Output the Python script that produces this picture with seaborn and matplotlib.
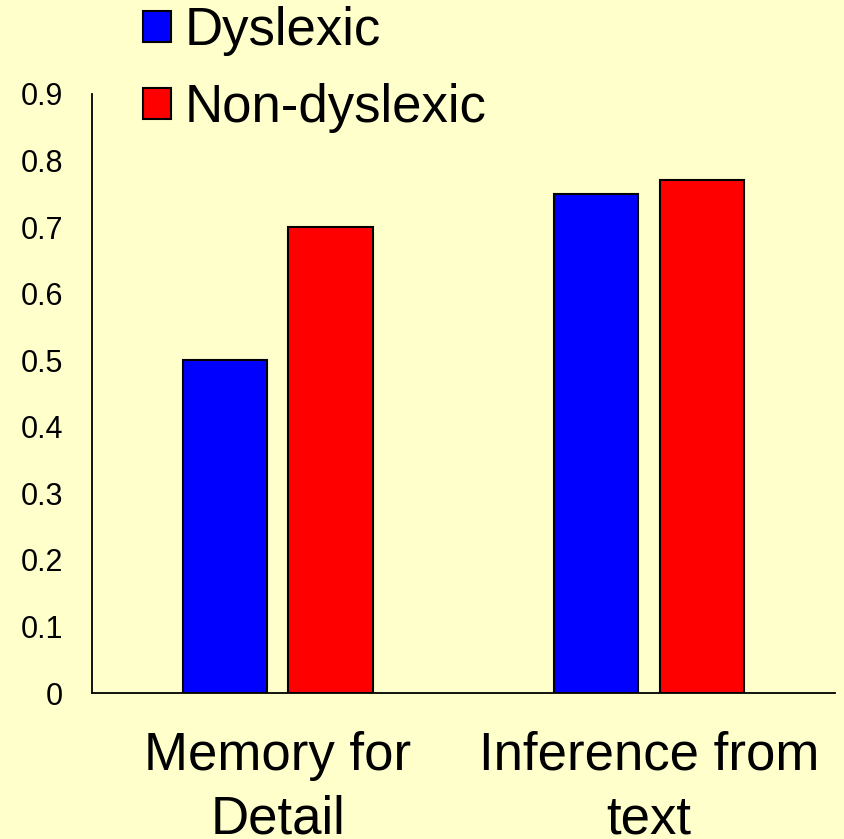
import matplotlib
matplotlib.use("Agg")
import matplotlib.pyplot as plt
import seaborn as sns
import pandas as pd

categories = ["Memory for\nDetail", "Inference from\ntext"]
groups = ["Dyslexic", "Non-dyslexic"]
dyslexic = [0.50, 0.75]
non_dyslexic = [0.70, 0.77]
y_ticks = [0, 0.1, 0.2, 0.3, 0.4, 0.5, 0.6, 0.7, 0.8, 0.9]
y_tick_labels = ["0", "0.1", "0.2", "0.3", "0.4", "0.5", "0.6", "0.7", "0.8", "0.9"]

df = pd.DataFrame({
    "task": categories * 2,
    "group": [groups[0]] * 2 + [groups[1]] * 2,
    "score": dyslexic + non_dyslexic,
})

bg = "#FFFFCC"
sns.set_theme(style="white")
plt.rcParams["font.family"] = ["Liberation Sans", "DejaVu Sans"]
plt.rcParams["text.color"] = "black"
plt.rcParams["xtick.color"] = "black"
plt.rcParams["ytick.color"] = "black"

fig = plt.figure(figsize=(8.44, 8.39), dpi=100, facecolor=bg)
ax = fig.add_axes([0.109, 0.174, 0.880, 0.714])
ax.set_facecolor(bg)

sns.barplot(data=df, x="task", y="score", hue="group", order=categories,
            hue_order=groups, palette={"Dyslexic": "#0000FF", "Non-dyslexic": "#FF0000"},
            width=0.568, gap=0.2, edgecolor="black", linewidth=1.5,
            saturation=1, ax=ax, legend=True)

ax.set_xlim(-0.5, 1.5)
ax.set_ylim(0, 0.9)
ax.set_yticks(y_ticks)
ax.set_yticklabels(y_tick_labels)
ax.set_xlabel("")
ax.set_ylabel("")
ax.tick_params(axis="y", length=0, pad=21, labelsize=22, labelcolor="black")
ax.tick_params(axis="x", length=0, pad=27, labelsize=38, labelcolor="black")
for lbl in ax.get_xticklabels():
    lbl.set_linespacing(1.36)

for side in ["top", "right"]:
    ax.spines[side].set_visible(False)
for side in ["left", "bottom"]:
    ax.spines[side].set_color("black")
    ax.spines[side].set_linewidth(1.3)

handles, labels = ax.get_legend_handles_labels()
ax.get_legend().remove()
leg = fig.legend(handles, labels, loc="upper left", bbox_to_anchor=(0.1445, 1.018),
                 frameon=False, fontsize=38, handlelength=0.53, handleheight=0.53,
                 handletextpad=0.25, labelspacing=0.51, borderaxespad=0)
for t in leg.get_texts():
    t.set_color("black")

fig.savefig("out.png", dpi=100, facecolor=bg)
